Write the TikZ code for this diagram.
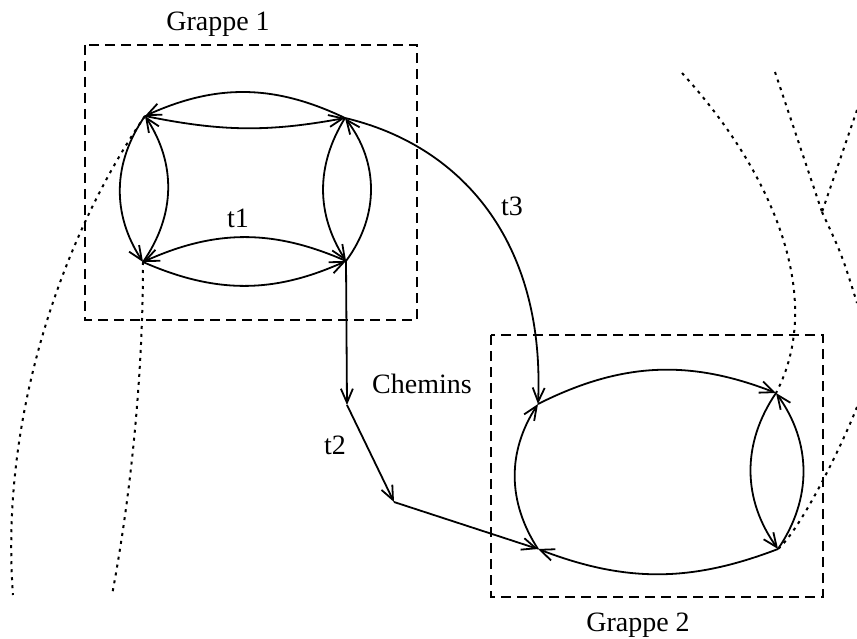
\documentclass[tikz,border=0pt]{standalone}
\usepackage{fontspec}
\setmainfont{Liberation Serif}
\usetikzlibrary{arrows.meta}
\begin{document}
\begin{tikzpicture}[x=1pt,y=1pt,
  edge/.style={line width=1.8pt, -{Straight Barb[length=14pt,width=12pt]}},
  box/.style={line width=2pt, dash pattern=on 10pt off 6pt},
  dotline/.style={line width=2pt, dash pattern=on 3pt off 5pt},
  lbl/.style={font=\fontsize{28}{32}\selectfont, inner sep=0pt}]
\useasboundingbox (0,0) rectangle (857,-639);
% cluster boxes
\draw[box] (85,-45) rectangle (417,-320);
\draw[box] (491,-335) rectangle (823,-597);
% nodes cluster 1
\coordinate (A) at (145,-116);
\coordinate (B) at (345,-118);
\coordinate (C) at (143,-262);
\coordinate (D) at (346,-261);
% nodes cluster 2
\coordinate (E) at (538,-404);
\coordinate (F) at (776,-393);
\coordinate (G) at (538,-549);
\coordinate (H) at (778,-549);
% path points
\coordinate (P1) at (347,-405);
\coordinate (P2) at (394,-502);
% outside ends of dotted lines
\coordinate (L1) at (13,-595);
\coordinate (L2) at (112,-595);
\coordinate (R1) at (682,-73);
\coordinate (R2) at (775,-72);
\coordinate (R3) at (857,-303);
\coordinate (R4) at (857,-110);
\coordinate (J) at (822,-212);
\coordinate (R5) at (857,-407);
% cluster 1 edges
\draw[edge] (B) to[bend right=25] (A);
\draw[edge] (A) to[bend right=11] (B);
\draw[edge] (A) to[bend right=34] (C);
\draw[edge] (C) to[bend right=34] (A);
\draw[edge] (B) to[bend right=32] (D);
\draw[edge] (D) to[bend right=37] (B);
\draw[edge] (D) to[bend right=24] (C);
\draw[edge] (C) to[bend right=24] (D);
% cluster 2 edges
\draw[edge] (E) to[bend left=24] (F);
\draw[edge] (G) to[bend left=33] (E);
\draw[edge] (H) to[bend left=21] (G);
\draw[edge] (F) to[bend right=35] (H);
\draw[edge] (H) to[bend right=35] (F);
% inter-cluster paths
\draw[edge] (B) .. controls (460,-145) and (545,-240) .. (E);
\draw[edge] (D) -- (P1);
\draw[edge] (P1) -- (P2);
\draw[edge] (P2) -- (G);
% dotted lines
\draw[dotline] (A) .. controls (60,-240) and (0,-420) .. (L1);
\draw[dotline] (C) .. controls (143,-380) and (130,-500) .. (L2);
\draw[dotline] (R1) .. controls (775,-175) and (825,-300) .. (F);
\draw[dotline] (R2) -- (J);
\draw[dotline] (J) .. controls (842,-255) .. (R3);
\draw[dotline] (R4) -- (J);
\draw[dotline] (R5) .. controls (840,-450) and (800,-530) .. (H);
% labels
\node[lbl] (g1) at (218,-24) {Grappe 1};
\node[lbl] (g2) at (638,-625) {Grappe 2};
\node[lbl] (t1) at (238,-218) {t1};
\node[lbl] (t2) at (335,-445) {t2};
\node[lbl] (t3) at (512,-206) {t3};
\node[lbl] (ch) at (422,-384) {Chemins};
\end{tikzpicture}
\end{document}
